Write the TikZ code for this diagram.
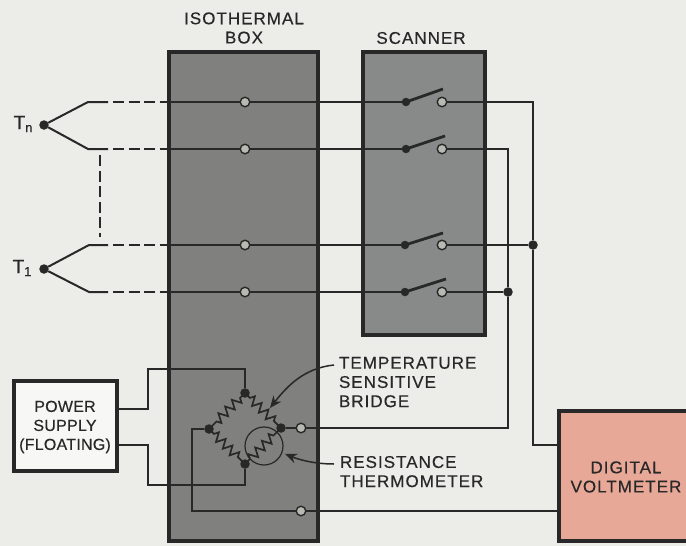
\documentclass[tikz,border=0pt]{standalone}
\usepackage{fontspec}
\setmainfont[LetterSpace=6,FakeBold=0.35]{Liberation Sans}
\newfontfamily\tightface[LetterSpace=1.5,FakeBold=0.35]{Liberation Sans}
\usetikzlibrary{decorations.pathmorphing,arrows.meta}
\definecolor{paper}{RGB}{236,236,232}
\definecolor{ink}{RGB}{40,40,40}
\definecolor{slab}{RGB}{128,128,126}
\definecolor{slabb}{RGB}{136,138,138}
\definecolor{salmon}{RGB}{232,168,152}
\definecolor{hole}{RGB}{185,185,180}
\tikzset{
  x=1pt,y=-1pt,
  boxedge/.style={draw=ink,line width=3.8pt,inner sep=0,outer sep=0,anchor=north west},
  wire/.style={draw=ink,line width=2pt,line join=miter},
  brokenwire/.style={wire,line width=2.2pt,dash pattern=on 11pt off 4.5pt},
  junct/.style={circle,fill=ink,inner sep=0,minimum size=9.5pt,outer sep=0},
  smalljunct/.style={junct,minimum size=8.5pt},
  term/.style={circle,draw=ink,fill=hole,line width=1.4pt,inner sep=0,minimum size=9.5pt,outer sep=0},
  blade/.style={draw=ink,line width=2.8pt},
  res/.style={draw=ink,line width=1.7pt,decorate,decoration={zigzag,segment length=9.5pt,amplitude=4.5pt,pre length=7pt,post length=7pt}},
  pointer/.style={draw=ink,line width=1.5pt,-{Stealth[length=12pt,width=10pt]}},
  lab/.style={inner sep=0,outer sep=0,text=ink,font=\fontsize{17}{19.2}\selectfont},
  sub/.style={inner sep=0,outer sep=0,text=ink,font=\tightface\fontsize{19}{19}\selectfont},
}
\begin{document}
\begin{tikzpicture}
\useasboundingbox (0,0) rectangle (686,546);
\clip (0,0) rectangle (686,546);
\fill[paper] (0,0) rectangle (686,546);
% boxes
\node[boxedge,fill=slab,minimum width=149pt,minimum height=489pt] (iso) at (169,52) {};
\node[boxedge,fill=slabb,minimum width=122pt,minimum height=283pt] (scan) at (363,52) {};
\node[boxedge,fill=white!60!paper,minimum width=103pt,minimum height=90pt] (ps) at (14,381) {};
\node[boxedge,fill=salmon,minimum width=140pt,minimum height=130pt] (dvm) at (559,411) {};
% labels
\node[lab,align=center] (lisot) at (244,28) {ISOTHERMAL\\BOX};
\node[lab] (lscan) at (421,38) {SCANNER};
\node[lab,align=center,font=\tightface\fontsize{16}{19}\selectfont] (lps) at (65,427) {POWER\\SUPPLY\\(FLOATING)};
\node[lab,align=center] (ldvm) at (626,477) {DIGITAL\\VOLTMETER};
\node[lab,align=left,anchor=north west] (ltemp) at (339,357) {TEMPERATURE\\SENSITIVE\\BRIDGE};
\node[lab,align=left,anchor=north west] (lres) at (340,456) {RESISTANCE\\THERMOMETER};
\node[sub] (ltn) at (23,124) {T\raisebox{-3pt}{\fontsize{13}{13}\selectfont n}};
\node[sub] (lt1) at (22,268) {T\raisebox{-3pt}{\fontsize{13}{13}\selectfont 1}};
% thermocouple junctions
\node[junct] (tn) at (44,125) {};
\node[junct] (t1) at (44,269) {};
% elbows and ends of solid runs
\coordinate (ea) at (88,102); \coordinate (eb) at (88,149);
\coordinate (ec) at (89,245); \coordinate (ed) at (89,292);
\coordinate (da) at (108,102); \coordinate (db) at (108,149);
\coordinate (dc) at (108,245); \coordinate (dd) at (108,292);
\coordinate (fa) at (113,102); \coordinate (fb) at (113,149);
\coordinate (fc) at (113,245); \coordinate (fd) at (113,292);
\coordinate (ia) at (169,102); \coordinate (ib) at (169,149);
\coordinate (ic) at (169,245); \coordinate (id) at (169,292);
\coordinate (vt) at (100,155); \coordinate (vb) at (100,237);
% terminals in the isothermal box
\node[term] (ca) at (245,102) {};
\node[term] (cb) at (245,149) {};
\node[term] (cc) at (245,245) {};
\node[term] (cd) at (245,292) {};
% switches
\node[smalljunct] (sa) at (406,102) {};
\node[smalljunct] (sb) at (406,149) {};
\node[smalljunct] (sc) at (405,245) {};
\node[smalljunct] (sd) at (405,292) {};
\node[term] (oa) at (442,102) {};
\node[term] (ob) at (442,149) {};
\node[term] (oc) at (442,245) {};
\node[term] (od) at (442,292) {};
\coordinate (ba) at (443,89); \coordinate (bb) at (445,136);
\coordinate (bc) at (443,233); \coordinate (bd) at (446,279);
% outer bus
\node[junct] (ja) at (533,245) {};
\node[junct] (jb) at (508,292) {};
\coordinate (ra) at (533,102); \coordinate (rb) at (508,149);
\coordinate (ua) at (533,445); \coordinate (ub) at (508,428);
\coordinate (va) at (558,445); \coordinate (vc) at (558,511);
% bridge
\node[junct] (top) at (245,393) {};
\node[junct] (lef) at (209,429) {};
\node[junct] (rig) at (281,428) {};
\node[junct] (bot) at (245,464) {};
\node[term] (cr) at (301,428) {};
\node[term] (cg) at (301,511) {};
\node[circle,draw=ink,line width=1.2pt,inner sep=0,minimum size=38pt] (rt) at (264,446) {};
\coordinate (pa) at (117,409); \coordinate (pa1) at (148,409); \coordinate (pa2) at (148,369); \coordinate (pa3) at (245,369);
\coordinate (pb) at (117,445); \coordinate (pb1) at (148,445); \coordinate (pb2) at (148,485); \coordinate (pb3) at (245,485);
\coordinate (ga) at (192,429); \coordinate (gb) at (192,511);
\coordinate (tempt) at (334,365); \coordinate (tempa) at (270,408);
\coordinate (rest) at (334,464); \coordinate (resa) at (285,454);
% thermocouple wires
\draw[wire] (da) -- (ea) -- (tn) -- (eb) -- (db);
\draw[wire] (dc) -- (ec) -- (t1) -- (ed) -- (dd);
\draw[brokenwire] (fa) -- (ia);
\draw[brokenwire] (fb) -- (ib);
\draw[brokenwire] (fc) -- (ic);
\draw[brokenwire] (fd) -- (id);
\draw[brokenwire] (vt) -- (vb);
\draw[wire] (ia) -- (ca) -- (sa);
\draw[wire] (ib) -- (cb) -- (sb);
\draw[wire] (ic) -- (cc) -- (sc);
\draw[wire] (id) -- (cd) -- (sd);
\draw[blade] (sa.center) -- (ba);
\draw[blade] (sb.center) -- (bb);
\draw[blade] (sc.center) -- (bc);
\draw[blade] (sd.center) -- (bd);
\draw[wire] (oa) -- (ra) -- (ja) -- (ua) -- (va);
\draw[wire] (oc) -- (ja);
\draw[wire] (ob) -- (rb) -- (jb) -- (ub) -- (cr);
\draw[wire] (od) -- (jb);
% bridge wiring
\draw[res] (top.center) -- (lef.center);
\draw[res] (top.center) -- (rig.center);
\draw[res] (lef.center) -- (bot.center);
\draw[res] (bot.center) -- (rig.center);
\draw[wire] (cr) -- (rig);
\draw[wire] (pa) -- (pa1) -- (pa2) -- (pa3) -- (top);
\draw[wire] (pb) -- (pb1) -- (pb2) -- (pb3) -- (bot);
\draw[wire] (lef) -- (ga) -- (gb) -- (cg);
\draw[wire] (cg) -- (vc);
% pointers
\draw[pointer] (tempt) .. controls (305,368) and (288,385) .. (tempa);
\draw[pointer] (rest) .. controls (315,464) and (300,460) .. (resa);
\end{tikzpicture}
\end{document}
